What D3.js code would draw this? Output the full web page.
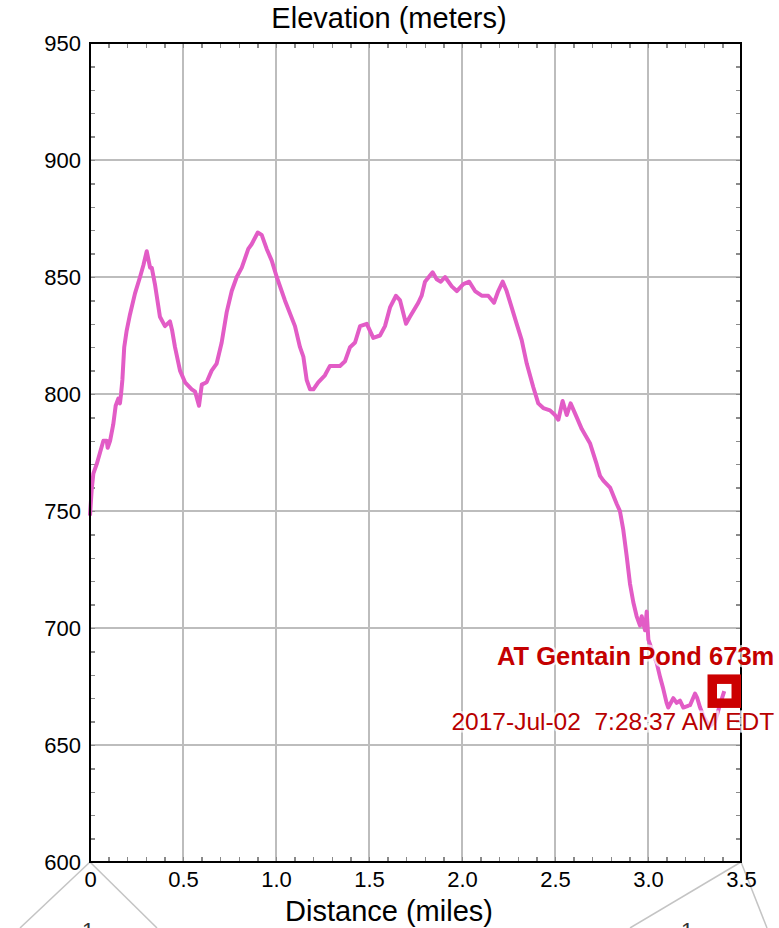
<!DOCTYPE html>
<html>
<head>
<meta charset="utf-8">
<script src="https://cdnjs.cloudflare.com/ajax/libs/d3/7.8.5/d3.min.js"></script>
<style>
  body { margin: 0; background: #fff; }
  svg text { font-family: "Liberation Sans", Arial, Helvetica, sans-serif; }
  .axis path, .axis line { shape-rendering: crispEdges; }
</style>
</head>
<body>
<div id="chart"></div>
<script>
// track profile (miles, meters)
var distance = [0.000, 0.009, 0.018, 0.036, 0.054, 0.072, 0.090, 0.095, 0.108, 0.125, 0.138, 0.152, 0.161, 0.167, 0.174,
  0.184, 0.197, 0.215, 0.242, 0.269, 0.287, 0.305, 0.323, 0.332, 0.349, 0.376, 0.403, 0.430, 0.442, 0.457, 0.484,
  0.511, 0.547, 0.565, 0.586, 0.601, 0.627, 0.654, 0.681, 0.708, 0.735, 0.762, 0.789, 0.816, 0.851, 0.869, 0.902,
  0.923, 0.950, 0.977, 1.004, 1.048, 1.102, 1.129, 1.147, 1.165, 1.183, 1.201, 1.227, 1.263, 1.290, 1.317, 1.344,
  1.371, 1.398, 1.425, 1.452, 1.488, 1.523, 1.559, 1.586, 1.613, 1.645, 1.667, 1.699, 1.720, 1.765, 1.783, 1.801,
  1.842, 1.864, 1.886, 1.909, 1.945, 1.972, 2.007, 2.039, 2.070, 2.106, 2.141, 2.172, 2.195, 2.219, 2.240, 2.267,
  2.294, 2.321, 2.348, 2.383, 2.410, 2.437, 2.473, 2.500, 2.518, 2.541, 2.563, 2.584, 2.617, 2.644, 2.688, 2.724,
  2.742, 2.760, 2.796, 2.832, 2.849, 2.867, 2.885, 2.903, 2.921, 2.939, 2.957, 2.966, 2.984, 2.993, 3.002, 3.020,
  3.047, 3.065, 3.082, 3.100, 3.109, 3.136, 3.154, 3.172, 3.190, 3.226, 3.253, 3.265, 3.280, 3.300, 3.330, 3.360,
  3.390, 3.410];
var elevation = [748, 759, 766, 770, 775, 780, 780, 777, 780, 787, 795, 798, 796, 800, 806,
  820, 827, 834, 843, 850, 855, 861, 854, 854, 847, 833, 829, 831, 827, 820, 810,
  805, 802, 801, 795, 804, 805, 810, 813, 822, 835, 844, 850, 854, 862, 864, 869,
  868, 862, 857, 850, 840, 829, 820, 816, 806, 802, 802, 805, 808, 812, 812, 812,
  814, 820, 822, 829, 830, 824, 825, 829, 837, 842, 840, 830, 833, 839, 842, 848,
  852, 849, 848, 850, 846, 844, 847, 848, 844, 842, 842, 839, 844, 848, 844, 837,
  830, 823, 813, 803, 796, 794, 793, 791, 789, 797, 791, 796, 790, 785, 779, 770,
  765, 763, 760, 753, 750, 742, 731, 719, 711, 705, 701, 705, 699, 707, 695, 691,
  685, 679, 674, 668, 666, 670, 668, 669, 666, 667, 672, 670, 666, 662, 658, 660,
  668, 673];

var yTicks = [600, 650, 700, 750, 800, 850, 900, 950];
var xTicks = [0, 0.5, 1.0, 1.5, 2.0, 2.5, 3.0, 3.5];
var xTickLabels = ["0", "0.5", "1.0", "1.5", "2.0", "2.5", "3.0", "3.5"];

var waypointName = "AT Gentain Pond 673m";
var waypointTime = "2017-Jul-02  7:28:37 AM EDT";
var waypointDist = 3.41;
var waypointElev = 673;

var margin = { top: 43, right: 38, bottom: 66, left: 90 };
var width = 779 - margin.left - margin.right;
var height = 928 - margin.top - margin.bottom;

var svg = d3.select("#chart").append("svg")
  .attr("width", 779)
  .attr("height", 928);

var g = svg.append("g")
  .attr("transform", "translate(" + margin.left + "," + margin.top + ")");

var x = d3.scaleLinear().domain([0, 3.5]).range([0, width]);
var y = d3.scaleLinear().domain([600, 950]).range([height, 0]);

// fold-out lines under the chart
var corners = [[0, -70], [0, 67], [width, -111], [width, 26]];
g.selectAll(".fold").data(corners).enter().append("line")
  .attr("x1", function(d) { return d[0]; })
  .attr("y1", height)
  .attr("x2", function(d) { return d[0] + d[1]; })
  .attr("y2", height + 66)
  .attr("stroke", "#c4c4c4")
  .attr("stroke-width", 1.5);
g.selectAll(".foldlabel").data([-2, width - 54]).enter().append("text")
  .attr("x", function(d) { return d; })
  .attr("y", height + 76)
  .attr("text-anchor", "middle")
  .attr("font-size", 22)
  .attr("fill", "#333")
  .text("1");

// grid
g.append("g").attr("class", "grid")
  .selectAll("line").data(xTicks.slice(1, -1)).enter().append("line")
  .attr("x1", function(d) { return x(d); })
  .attr("x2", function(d) { return x(d); })
  .attr("y1", 0).attr("y2", height)
  .attr("stroke", "#bdbdbd").attr("stroke-width", 2);
g.append("g").attr("class", "grid")
  .selectAll("line").data(yTicks.slice(1, -1)).enter().append("line")
  .attr("y1", function(d) { return y(d); })
  .attr("y2", function(d) { return y(d); })
  .attr("x1", 0).attr("x2", width)
  .attr("stroke", "#bdbdbd").attr("stroke-width", 2);

// minor ticks inside the frame
var minorY = d3.range(610, 950, 10);
var minorX = d3.range(1, 35).map(function(i) { return i / 10; });
function minor(axis, tf) {
  var a = g.append("g").attr("class", "axis").attr("transform", tf).call(axis);
  a.select(".domain").remove();
  a.selectAll("text").remove();
  a.selectAll("line").attr("stroke", "#8a8a8a").attr("stroke-width", 1.5);
}
minor(d3.axisLeft(y).tickValues(minorY).tickSize(-5), "translate(0,0)");
minor(d3.axisRight(y).tickValues(minorY).tickSize(-5), "translate(" + width + ",0)");
minor(d3.axisTop(x).tickValues(minorX).tickSize(-5), "translate(0,0)");
minor(d3.axisBottom(x).tickValues(minorX).tickSize(-5), "translate(0," + height + ")");

// elevation line
var line = d3.line()
  .x(function(d) { return x(d[0]); })
  .y(function(d) { return y(d[1]); });

g.append("path")
  .datum(d3.zip(distance, elevation))
  .attr("d", line)
  .attr("fill", "none")
  .attr("stroke", "#e25cc6")
  .attr("stroke-width", 4)
  .attr("stroke-linejoin", "round");

// frame
g.append("rect")
  .attr("width", width).attr("height", height)
  .attr("fill", "none").attr("stroke", "#000").attr("stroke-width", 2);

// axis labels
var yAxis = g.append("g").attr("class", "axis")
  .call(d3.axisLeft(y).tickValues(yTicks).tickSize(0).tickPadding(9));
yAxis.select(".domain").remove();
yAxis.selectAll("text").attr("font-size", 22).attr("fill", "#000").attr("font-family", null);

var xAxis = g.append("g").attr("class", "axis")
  .attr("transform", "translate(0," + height + ")")
  .call(d3.axisBottom(x).tickValues(xTicks).tickSize(0).tickPadding(9)
    .tickFormat(function(d, i) { return xTickLabels[i]; }));
xAxis.select(".domain").remove();
xAxis.selectAll("text").attr("font-size", 22).attr("fill", "#000").attr("font-family", null);

// titles
svg.append("text")
  .attr("x", 389).attr("y", 28)
  .attr("text-anchor", "middle")
  .attr("font-size", 29)
  .text("Elevation (meters)");

svg.append("text")
  .attr("x", 389).attr("y", 921)
  .attr("text-anchor", "middle")
  .attr("font-size", 29)
  .text("Distance (miles)");

// waypoint marker
var wx = x(waypointDist), wy = y(waypointElev);
g.append("rect")
  .attr("x", wx - 12).attr("y", wy - 12)
  .attr("width", 24).attr("height", 24)
  .attr("fill", "none")
  .attr("stroke", "#cc0000")
  .attr("stroke-width", 9.5);

g.append("text")
  .attr("x", wx + 50).attr("y", wy - 26)
  .attr("text-anchor", "end")
  .attr("font-size", 25.5)
  .attr("font-weight", "bold")
  .attr("fill", "#c40000")
  .attr("stroke", "rgba(255,255,255,0.7)")
  .attr("stroke-width", 5)
  .attr("paint-order", "stroke")
  .text(waypointName);

g.append("text")
  .attr("x", wx + 50).attr("y", wy + 39)
  .attr("text-anchor", "end")
  .attr("font-size", 24.5)
  .attr("fill", "#b80000")
  .attr("stroke", "rgba(255,255,255,0.7)")
  .attr("stroke-width", 5)
  .attr("paint-order", "stroke")
  .style("white-space", "pre")
  .text(waypointTime);
</script>
</body>
</html>
